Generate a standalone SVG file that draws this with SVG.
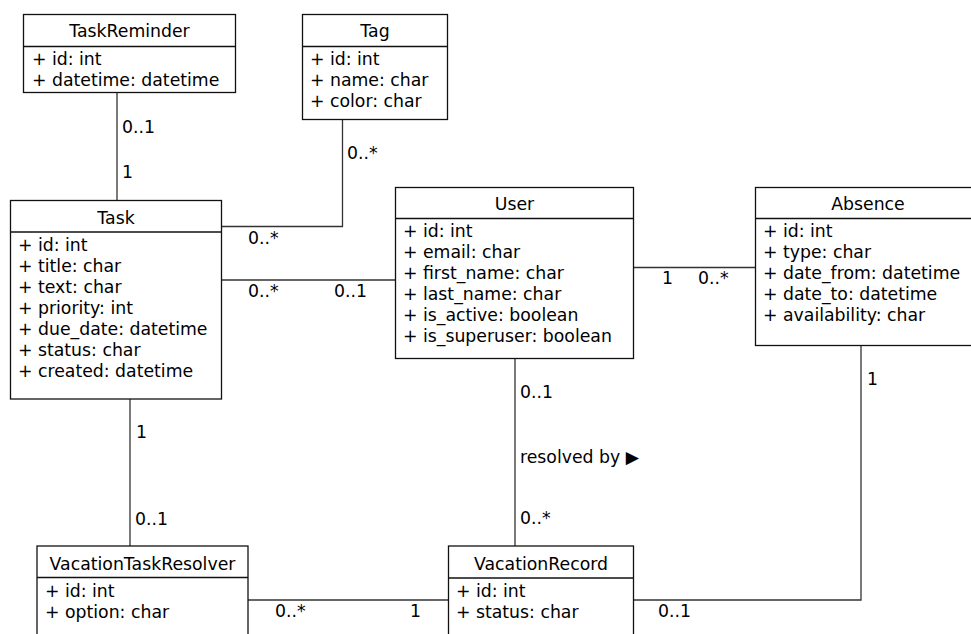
<svg xmlns="http://www.w3.org/2000/svg" width="971" height="634" viewBox="0 0 971 634">
<style>
.box{fill:#fff;stroke:#111;stroke-width:1.3}
.sep{stroke:#111;stroke-width:1.3;fill:none}
.edge{stroke:#333;stroke-width:1.3;fill:none}
text{font-family:"DejaVu Sans","Liberation Sans",sans-serif;font-size:17.3px;fill:#000}
.ttl{text-anchor:middle}
</style>
<rect width="971" height="634" fill="#fff"/>
<g id="connectors">
<path class="edge" d="M117 92.5V200.5"/>
<path class="edge" d="M342.5 119.5V226.5H221.5"/>
<path class="edge" d="M221.5 280H395.5"/>
<path class="edge" d="M633.5 267.5H755.5"/>
<path class="edge" d="M130 399V546"/>
<path class="edge" d="M515 358.5V546"/>
<path class="edge" d="M248 600H448.5"/>
<path class="edge" d="M861 345.5V600H633.5"/>
<text x="122" y="133">0..1</text>
<text x="122" y="178">1</text>
<text x="347" y="159">0..*</text>
<text x="248" y="244">0..*</text>
<text x="248" y="297">0..*</text>
<text x="334" y="297">0..1</text>
<text x="662" y="284">1</text>
<text x="698" y="284">0..*</text>
<text x="136" y="438">1</text>
<text x="135" y="525">0..1</text>
<text x="520" y="398">0..1</text>
<text x="520" y="463">resolved by ▶</text>
<text x="520" y="524">0..*</text>
<text x="867" y="385">1</text>
<text x="275" y="617">0..*</text>
<text x="410" y="617">1</text>
<text x="658" y="617">0..1</text>
</g>
<g id="TaskReminder">
<rect class="box" x="23.5" y="14.5" width="212" height="78"/>
<path class="sep" d="M23.5 46.5H235.5"/>
<text class="ttl" x="129.5" y="37">TaskReminder</text>
<text x="32" y="65">+ id: int</text>
<text x="32" y="86">+ datetime: datetime</text>
</g>
<g id="Tag">
<rect class="box" x="302.5" y="14.5" width="145" height="105"/>
<path class="sep" d="M302.5 46.5H447.5"/>
<text class="ttl" x="375" y="37">Tag</text>
<text x="310" y="65">+ id: int</text>
<text x="310" y="86">+ name: char</text>
<text x="310" y="107">+ color: char</text>
</g>
<g id="Task">
<rect class="box" x="10.5" y="200.5" width="211" height="198.5"/>
<path class="sep" d="M10.5 232H221.5"/>
<text class="ttl" x="116" y="223.5">Task</text>
<text x="18" y="251">+ id: int</text>
<text x="18" y="272">+ title: char</text>
<text x="18" y="293">+ text: char</text>
<text x="18" y="314">+ priority: int</text>
<text x="18" y="335">+ due_date: datetime</text>
<text x="18" y="356">+ status: char</text>
<text x="18" y="377">+ created: datetime</text>
</g>
<g id="User">
<rect class="box" x="395.5" y="187.5" width="238" height="171"/>
<path class="sep" d="M395.5 218.5H633.5"/>
<text class="ttl" x="514.5" y="210">User</text>
<text x="403" y="237">+ id: int</text>
<text x="403" y="258">+ email: char</text>
<text x="403" y="279">+ first_name: char</text>
<text x="403" y="300">+ last_name: char</text>
<text x="403" y="321">+ is_active: boolean</text>
<text x="403" y="342">+ is_superuser: boolean</text>
</g>
<g id="Absence">
<rect class="box" x="755.5" y="187.5" width="230" height="158"/>
<path class="sep" d="M755.5 218.5H985.5"/>
<text class="ttl" x="868" y="210">Absence</text>
<text x="763" y="237">+ id: int</text>
<text x="763" y="258">+ type: char</text>
<text x="763" y="279">+ date_from: datetime</text>
<text x="763" y="300">+ date_to: datetime</text>
<text x="763" y="321">+ availability: char</text>
</g>
<g id="VacationTaskResolver">
<rect class="box" x="37" y="546" width="211" height="120"/>
<path class="sep" d="M37 577.5H248"/>
<text class="ttl" x="142.5" y="570">VacationTaskResolver</text>
<text x="45" y="597">+ id: int</text>
<text x="45" y="618">+ option: char</text>
</g>
<g id="VacationRecord">
<rect class="box" x="448.5" y="546" width="185" height="120"/>
<path class="sep" d="M448.5 578H633.5"/>
<text class="ttl" x="541" y="570">VacationRecord</text>
<text x="456" y="597">+ id: int</text>
<text x="456" y="618">+ status: char</text>
</g>
</svg>
